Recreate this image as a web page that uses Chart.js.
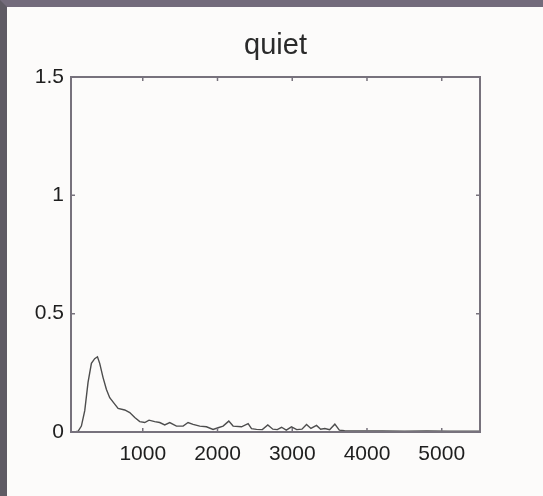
<!DOCTYPE html>
<html>
<head>
<meta charset="utf-8">
<script src="https://cdn.jsdelivr.net/npm/chart.js@4"></script>
<style>
  html, body { margin: 0; padding: 0; }
  body {
    width: 536px; height: 489px;
    background: #fcfbfa;
    border-top: 7px solid #736b7b;
    border-left: 7px solid #5f5b64;
    overflow: hidden;
  }
  #wrap { position: relative; width: 536px; height: 489px; }
</style>
</head>
<body>
<div id="wrap"><canvas id="c"></canvas></div>
<script>
const chartTitle = "quiet";
const freqHz = [40, 90, 134, 179, 224, 268, 313, 357, 394, 424,
  469, 514, 558, 625, 670, 759, 826, 893, 960, 1027,
  1084, 1160, 1227, 1294, 1361, 1451, 1540, 1606, 1673, 1763,
  1852, 1941, 2008, 2075, 2151, 2209, 2321, 2410, 2455, 2522,
  2600, 2673, 2740, 2800, 2857, 2920, 2990, 3060, 3130, 3191,
  3250, 3325, 3380, 3436, 3500, 3570, 3630, 3700, 3900, 4200,
  4500, 4800, 5100, 5400, 5512];
const amplitude = [0, 0, 0.003, 0.025, 0.09, 0.21, 0.29, 0.31, 0.318, 0.29,
  0.23, 0.18, 0.145, 0.118, 0.10, 0.093, 0.082, 0.061, 0.044, 0.04,
  0.05, 0.044, 0.04, 0.03, 0.04, 0.025, 0.025, 0.04, 0.032, 0.025,
  0.022, 0.011, 0.018, 0.025, 0.046, 0.025, 0.022, 0.035, 0.014, 0.011,
  0.01, 0.03, 0.012, 0.01, 0.02, 0.008, 0.022, 0.01, 0.012, 0.032,
  0.015, 0.028, 0.012, 0.015, 0.01, 0.033, 0.008, 0.005, 0.004, 0.004,
  0.003, 0.004, 0.003, 0.003, 0.003];
const xTickValues = [1000, 2000, 3000, 4000, 5000];
const yTickValues = [0, 0.5, 1, 1.5];
const xRange = [40, 5512];
const yRange = [0, 1.5];

const points = freqHz.map((f, i) => ({ x: f, y: amplitude[i] }));

const framePlugin = {
  id: 'frame',
  afterDraw(chart) {
    const { ctx, chartArea: a, scales } = chart;
    ctx.save();
    ctx.strokeStyle = '#77727c';
    ctx.lineWidth = 2;
    ctx.strokeRect(a.left, a.top, a.right - a.left, a.bottom - a.top);
    ctx.lineWidth = 1.5;
    const tl = 4;
    ctx.beginPath();
    xTickValues.forEach(v => {
      const px = scales.x.getPixelForValue(v);
      ctx.moveTo(px, a.bottom); ctx.lineTo(px, a.bottom - tl);
      ctx.moveTo(px, a.top); ctx.lineTo(px, a.top + tl);
    });
    yTickValues.forEach(v => {
      const py = scales.y.getPixelForValue(v);
      ctx.moveTo(a.left, py); ctx.lineTo(a.left + tl, py);
      ctx.moveTo(a.right, py); ctx.lineTo(a.right - tl, py);
    });
    ctx.stroke();
    ctx.restore();
  }
};

new Chart(document.getElementById('c'), {
  type: 'line',
  data: {
    datasets: [{
      data: points,
      borderColor: '#4d4d4d',
      borderWidth: 1.4,
      pointRadius: 0,
      tension: 0,
      fill: false
    }]
  },
  options: {
    responsive: true,
    maintainAspectRatio: false,
    animation: false,
    layout: { padding: { left: 0, right: 63, top: 0, bottom: 0 } },
    plugins: {
      legend: { display: false },
      tooltip: { enabled: false },
      title: {
        display: true,
        fullSize: false,
        text: chartTitle,
        color: '#2a2a2a',
        font: { family: 'Liberation Sans', size: 29, weight: 'normal', lineHeight: 1.2 },
        padding: { top: 22, bottom: 13.2 }
      }
    },
    scales: {
      x: {
        type: 'linear',
        min: xRange[0], max: xRange[1],
        afterBuildTicks: s => { s.ticks = xTickValues.map(v => ({ value: v })); },
        afterFit: s => { s.height = 64; },
        grid: { display: false, drawTicks: false },
        border: { display: false },
        ticks: {
          color: '#1e1e1e',
          padding: 10,
          maxRotation: 0,
          font: { family: 'Liberation Sans', size: 21 },
          callback: v => String(v)
        }
      },
      y: {
        type: 'linear',
        min: yRange[0], max: yRange[1],
        afterBuildTicks: s => { s.ticks = yTickValues.map(v => ({ value: v })); },
        afterFit: s => { s.width = 64; },
        grid: { display: false, drawTicks: false },
        border: { display: false },
        ticks: {
          color: '#1e1e1e',
          padding: 7,
          font: { family: 'Liberation Sans', size: 21 },
          callback: v => String(v)
        }
      }
    }
  },
  plugins: [framePlugin]
});
</script>
</body>
</html>
